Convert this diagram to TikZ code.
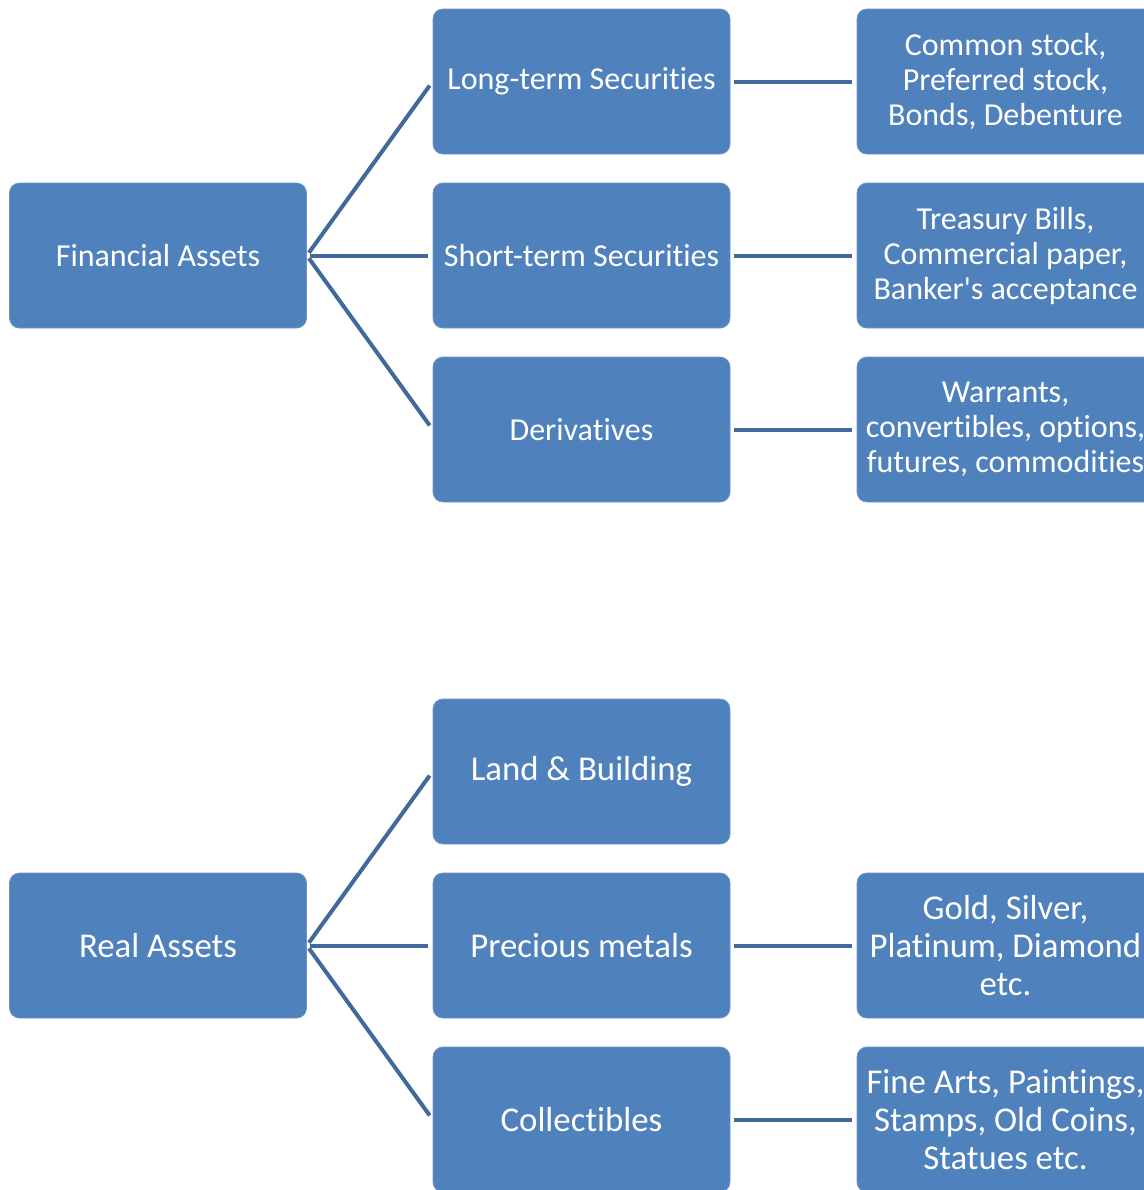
\documentclass[tikz,border=0pt]{standalone}
\usepackage{fontspec}
\setmainfont{Carlito}[Ligatures={NoCommon}]
\begin{document}
\begin{tikzpicture}[x=0.5pt,y=-0.5pt]

% Colori
\definecolor{boxBlue}{HTML}{4F81BD}
\definecolor{boxEdge}{HTML}{6C94C7}
\definecolor{linkBlue}{HTML}{41699C}

\tikzset{
  asset/.style={draw=boxEdge, line width=0.4pt, fill=boxBlue, rounded corners=5pt,
    minimum width=148.5pt, minimum height=72.5pt, inner sep=0pt,
    text=white, align=center, font=\fontsize{16}{17.5}\selectfont},
  realtext/.style={font=\fontsize{17.4}{19}\selectfont},
  link/.style={draw=linkBlue, line width=2pt, shorten <=1.75pt, shorten >=2.5pt}
}

% Cornice
\useasboundingbox (0,0) rectangle (1144,1190);
\clip (0,0) rectangle (1144,1190);

% Attivita finanziarie
\node[asset] (fin) at (158,255.5) {Financial Assets};
\node[asset] (lts) at (581.5,81.5) {Long-term Securities};
\node[asset] (sts) at (581.5,255.5) {Short-term Securities};
\node[asset] (der) at (581.5,429.5) {Derivatives};
\node[asset] (ltsx) at (1005.5,81.5) {Common stock,\\Preferred stock,\\Bonds, Debenture};
\node[asset] (stsx) at (1005.5,255.5) {Treasury Bills,\\Commercial paper,\\Banker\textquotesingle s acceptance};
\node[asset] (derx) at (1005.5,429.5) {Warrants,\\convertibles, options,\\futures, commodities};

% Attivita reali
\node[asset, realtext] (real) at (158,945.5) {Real Assets};
\node[asset, realtext] (land) at (581.5,771.5) {Land \& Building};
\node[asset, realtext] (prec) at (581.5,945.5) {Precious metals};
\node[asset, realtext] (coll) at (581.5,1119.5) {Collectibles};
\node[asset, realtext] (precx) at (1005.5,945.5) {Gold, Silver,\\Platinum, Diamond\\etc.};
\node[asset, realtext] (collx) at (1005.5,1119.5) {Fine Arts, Paintings,\\Stamps, Old Coins,\\Statues etc.};

% Collegamenti
\foreach \m in {lts,sts,der}
  \draw[link] (fin.east) -- (\m.west);
\foreach \m in {land,prec,coll}
  \draw[link] (real.east) -- (\m.west);
\foreach \m in {lts,sts,der,prec,coll}
  \draw[link, shorten <=2pt] (\m.east) -- (\m x.west);

\end{tikzpicture}
\end{document}
